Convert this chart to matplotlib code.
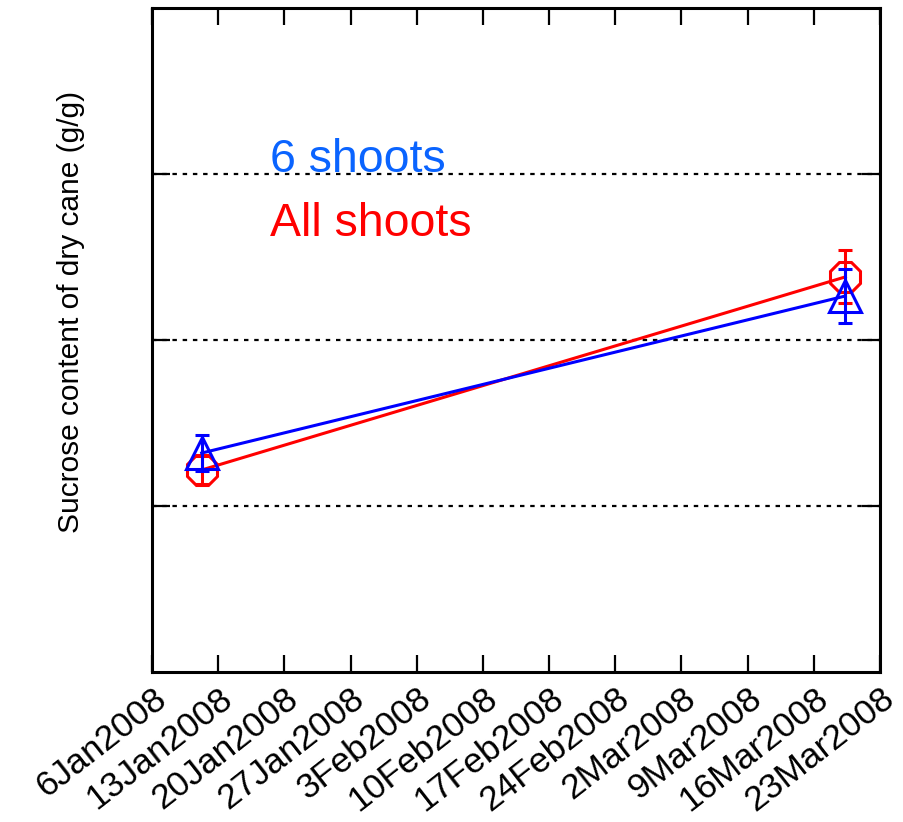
import numpy as np
import pandas as pd
import matplotlib
matplotlib.use("Agg")
import matplotlib.pyplot as plt
import matplotlib.dates as mdates
import matplotlib.transforms as mtransforms

plt.rcParams['font.family'] = ['Liberation Sans', 'DejaVu Sans']

## data ##
sample_dates = pd.to_datetime(['2008-01-11 06:00', '2008-03-19 08:00'])
six_shoots = [0.1319, 0.2265]
six_shoots_err = [0.0108, 0.0163]
all_shoots = [0.1217, 0.2380]
all_shoots_err = [0.0085, 0.0160]

tick_dates = pd.date_range('2008-01-06', '2008-03-23', freq='7D')
tick_labels = ['6Jan2008', '13Jan2008', '20Jan2008', '27Jan2008', '3Feb2008',
               '10Feb2008', '17Feb2008', '24Feb2008', '2Mar2008', '9Mar2008',
               '16Mar2008', '23Mar2008']
y_ticks = [0.1, 0.2, 0.3]

fig = plt.figure(figsize=(9.04, 8.22), dpi=100)
ax = fig.add_axes([152/904, 1 - 672/822, 728/904, 664/822])

xd = mdates.date2num(sample_dates)

## grid lines first so data sits on top ##
for yv in y_ticks:
    ax.axhline(yv, color='black', lw=1.6, ls=(0, (2.0, 2.6)), zorder=1)

ax.errorbar(xd, all_shoots, yerr=all_shoots_err, color='red', lw=2.2,
            marker='8', markersize=23, mfc='none', mec='red', mew=2.2,
            capsize=5, capthick=2.2, elinewidth=2.2, zorder=3)
ax.errorbar(xd, six_shoots, yerr=six_shoots_err, color='blue', lw=2.2,
            marker='^', markersize=23, mfc='none', mec='blue', mew=2.2,
            capsize=5, capthick=2.2, elinewidth=2.2, zorder=4)

ax.set_xlim(mdates.date2num(tick_dates[0]), mdates.date2num(tick_dates[-1]))
ax.set_ylim(0, 0.4)

ax.set_xticks(mdates.date2num(tick_dates))
ax.set_xticklabels(tick_labels, rotation=38, ha='right', va='top',
                   rotation_mode='anchor', fontsize=25.5)
# nudge the rotated labels a little to the right
shift = mtransforms.ScaledTranslation(7/100, 0, fig.dpi_scale_trans)
for lab in ax.get_xticklabels():
    lab.set_transform(lab.get_transform() + shift)
ax.set_yticks(y_ticks)
ax.set_yticklabels([])

ax.tick_params(axis='x', direction='in', length=12, width=1.6, top=True, pad=7)
ax.tick_params(axis='y', direction='in', length=13, width=1.6, right=True)
for s in ax.spines.values():
    s.set_linewidth(2.2)

ax.set_ylabel('Sucrose content of dry cane (g/g)', fontsize=21.5)
ax.yaxis.set_label_coords(-0.092, 0.542)

ax.text(270/904, 1 - 172/822, '6 shoots', color='#0a64ff', fontsize=33.5,
        transform=fig.transFigure, va='baseline')
ax.text(270/904, 1 - 236/822, 'All shoots', color='red', fontsize=33.5,
        transform=fig.transFigure, va='baseline')

plt.savefig('out.png', dpi=100)
plt.close('all')
